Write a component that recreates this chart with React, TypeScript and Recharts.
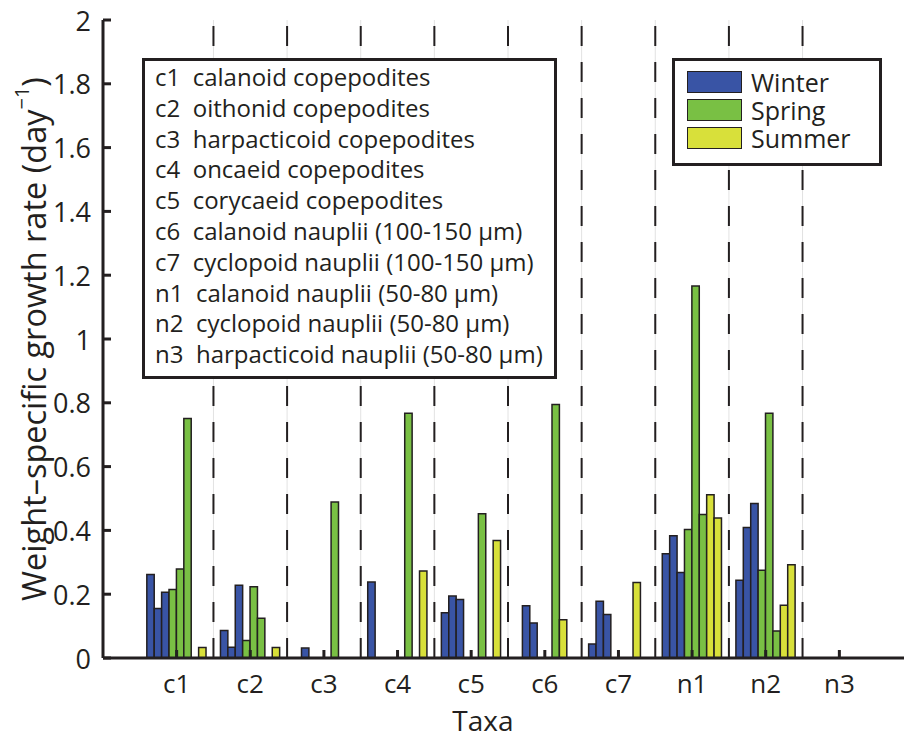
import { BarChart, Bar, XAxis, YAxis, ReferenceLine, Legend } from 'recharts';

// ─── Data ─────────────────────────────────────────────────────────────────────
const taxa = ['c1', 'c2', 'c3', 'c4', 'c5', 'c6', 'c7', 'n1', 'n2', 'n3'];
const taxaNames = [
  'calanoid copepodites',
  'oithonid copepodites',
  'harpacticoid copepodites',
  'oncaeid copepodites',
  'corycaeid copepodites',
  'calanoid nauplii (100-150 µm)',
  'cyclopoid nauplii (100-150 µm)',
  'calanoid nauplii (50-80 µm)',
  'cyclopoid nauplii (50-80 µm)',
  'harpacticoid nauplii (50-80 µm)',
];

const seasons = ['Winter', 'Spring', 'Summer'];

const winter1 = [0.262, 0.086, null, 0.238, 0.142, null, 0.044, 0.327, 0.244, null];
const winter2 = [0.155, 0.034, 0.031, null, 0.194, 0.164, 0.178, 0.383, 0.409, null];
const winter3 = [0.206, 0.228, null, null, 0.183, 0.11, 0.136, 0.268, 0.484, null];
const spring1 = [0.215, 0.055, null, null, null, null, null, 0.403, 0.275, null];
const spring2 = [0.279, 0.223, null, null, null, null, null, 1.166, 0.767, null];
const spring3 = [0.751, 0.125, 0.489, 0.767, 0.452, 0.795, null, 0.45, 0.085, null];
const summer1 = [null, null, null, null, null, 0.12, 0.237, 0.512, 0.165, null];
const summer2 = [0.033, 0.033, null, 0.273, 0.368, null, null, 0.439, 0.292, null];

const yTicks = [0, 0.2, 0.4, 0.6, 0.8, 1, 1.2, 1.4, 1.6, 1.8, 2];

const SEASON_COLORS: Record<string, string> = {
  Winter: '#3954a5',
  Spring: '#79c044',
  Summer: '#d8e03a',
};

const series = [
  { key: 'w1', season: 'Winter', values: winter1 },
  { key: 'w2', season: 'Winter', values: winter2 },
  { key: 'w3', season: 'Winter', values: winter3 },
  { key: 's1', season: 'Spring', values: spring1 },
  { key: 's2', season: 'Spring', values: spring2 },
  { key: 's3', season: 'Spring', values: spring3 },
  { key: 'u1', season: 'Summer', values: summer1 },
  { key: 'u2', season: 'Summer', values: summer2 },
];

const data = taxa.map((taxon, i) => {
  const row: Record<string, string | number | null> = { taxon, idx: i + 1 };
  series.forEach(s => { row[s.key] = s.values[i]; });
  return row;
});

// dashed separators half-way between neighbouring taxa
const separators = taxa.slice(1).map((_, i) => i + 1.5);

// ─── Layout ───────────────────────────────────────────────────────────────────
const FONT = "'Open Sans', sans-serif";
const INK = '#231f20';
const CHART_W = 916;
const CHART_H = 739;
const MARGIN = { top: 20, right: 3, bottom: 41, left: 43 };
const Y_AXIS_W = 60;
const PLOT_W = CHART_W - MARGIN.left - Y_AXIS_W - MARGIN.right;
const BAND = PLOT_W / (taxa.length + 1);

const YTick = ({ x, y, payload }: any) => (
  <g>
    <line x1={x + 12} x2={x + 20} y1={y} y2={y} stroke={INK} strokeWidth={3} />
    <text x={x} y={y} textAnchor="end" dominantBaseline="central" fontSize={27} fill={INK} fontFamily={FONT}>
      {payload.value}
    </text>
  </g>
);

const BottomTick = ({ x, y, payload }: any) => (
  <g>
    <line x1={x} x2={x} y1={y - 25} y2={y - 33} stroke={INK} strokeWidth={3} />
    <text x={x} y={y} textAnchor="middle" dominantBaseline="central" fontSize={26} fill={INK} fontFamily={FONT}>
      {payload.value}
    </text>
  </g>
);

const TopTick = ({ x, y }: any) => (
  <line x1={x} x2={x} y1={y} y2={y + 8} stroke={INK} strokeWidth={3} />
);

const YLabel = ({ viewBox }: any) => {
  const cx = 33;
  const cy = viewBox.y + viewBox.height / 2;
  return (
    <text
      x={cx}
      y={cy}
      transform={`rotate(-90 ${cx} ${cy})`}
      textAnchor="middle"
      dominantBaseline="central"
      fontSize={32.5}
      fill={INK}
      fontFamily={FONT}
    >
      Weight–specific growth rate (day
      <tspan dy={-12} fontSize={20}>−1</tspan>
      <tspan dy={12}>)</tspan>
    </text>
  );
};

const XLabel = ({ viewBox }: any) => (
  <text
    x={viewBox.x + viewBox.width * 0.469}
    y={731}
    textAnchor="middle"
    fontSize={28}
    fill={INK}
    fontFamily={FONT}
  >
    Taxa
  </text>
);

function SeasonLegend({ payload }: any) {
  const items = seasons
    .map(name => (payload ?? []).find((p: any) => p.value === name))
    .filter(Boolean);
  return (
    <div
      style={{
        width: 210,
        height: 108,
        boxSizing: 'border-box',
        border: `3px solid ${INK}`,
        background: '#fff',
        padding: '7px 0 0 12px',
        fontFamily: FONT,
        color: INK,
      }}
    >
      {items.map((p: any) => (
        <div key={p.value} style={{ display: 'flex', alignItems: 'center', height: 28 }}>
          <span
            style={{
              display: 'inline-block',
              width: 55,
              height: 22,
              boxSizing: 'border-box',
              background: p.color,
              border: `1.5px solid ${INK}`,
              marginRight: 9,
            }}
          />
          <span style={{ fontSize: 25, lineHeight: 1 }}>{p.value}</span>
        </div>
      ))}
    </div>
  );
}

function TaxaKey() {
  return (
    <div
      style={{
        position: 'absolute',
        left: 142,
        top: 58,
        width: 415,
        height: 321,
        boxSizing: 'border-box',
        border: `3px solid ${INK}`,
        background: '#fff',
        padding: '1px 0 0 10px',
        fontFamily: FONT,
        fontSize: 24,
        lineHeight: '30.8px',
        color: INK,
        whiteSpace: 'pre',
      }}
    >
      {taxa.map((t, i) => (
        <div key={t}>{`${t}  ${taxaNames[i]}`}</div>
      ))}
    </div>
  );
}

export default function App() {
  return (
    <div
      style={{
        position: 'fixed',
        left: 0,
        top: 0,
        width: 904,
        height: 739,
        overflow: 'hidden',
        background: '#fff',
      }}
    >
      <BarChart width={CHART_W} height={CHART_H} data={data} margin={MARGIN} barGap={0}>
        <XAxis
          dataKey="taxon"
          interval={0}
          height={40}
          padding={{ left: BAND / 2, right: BAND / 2 }}
          tickLine={false}
          tickSize={0}
          tickMargin={25}
          tick={<BottomTick />}
          axisLine={{ stroke: INK, strokeWidth: 3 }}
          label={<XLabel />}
        />
        <XAxis
          xAxisId="top"
          orientation="top"
          dataKey="taxon"
          interval={0}
          height={0}
          padding={{ left: BAND / 2, right: BAND / 2 }}
          tickLine={false}
          tickSize={0}
          tickMargin={0}
          tick={<TopTick />}
          axisLine={{ stroke: INK, strokeWidth: 3 }}
        />
        <XAxis
          xAxisId="grid"
          type="number"
          dataKey="idx"
          domain={[0, taxa.length + 1]}
          allowDataOverflow
          hide
          height={0}
        />
        <YAxis
          width={Y_AXIS_W}
          domain={[0, 2]}
          ticks={yTicks}
          interval={0}
          tickLine={false}
          tickSize={0}
          tickMargin={12}
          tick={<YTick />}
          axisLine={{ stroke: INK, strokeWidth: 3 }}
          label={<YLabel />}
        />
        {separators.map(b => (
          <ReferenceLine key={`g${b}`} xAxisId="grid" x={b} stroke="#e2e2e2" strokeWidth={1} />
        ))}
        {separators.map(b => (
          <ReferenceLine key={`d${b}`} xAxisId="grid" x={b} stroke={INK} strokeWidth={2} strokeDasharray="20 16" />
        ))}
        {series.map(s => (
          <Bar
            key={s.key}
            dataKey={s.key}
            name={s.season}
            fill={SEASON_COLORS[s.season]}
            stroke={INK}
            strokeWidth={1.5}
            barSize={7.4}
            isAnimationActive={false}
          />
        ))}
        <Legend
          layout="horizontal"
          verticalAlign="middle"
          align="center"
          width={210}
          height={108}
          wrapperStyle={{ left: 672, top: 58 }}
          content={(props: any) => <SeasonLegend {...props} />}
        />
      </BarChart>
      <TaxaKey />
    </div>
  );
}
